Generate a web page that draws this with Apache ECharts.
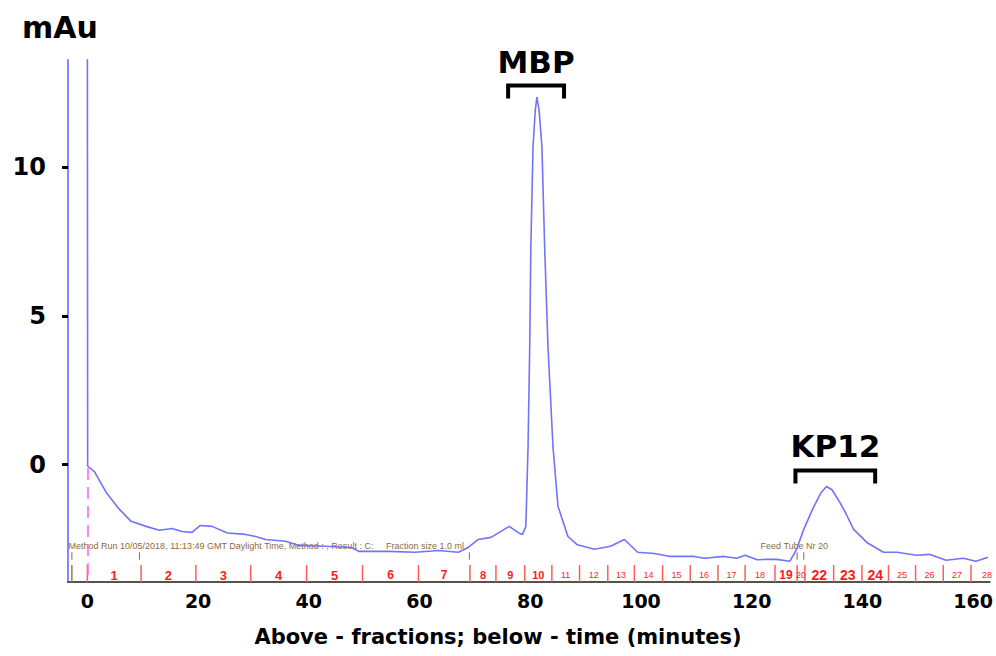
<!DOCTYPE html>
<html>
<head>
<meta charset="utf-8">
<script src="https://cdn.jsdelivr.net/npm/echarts@6/dist/echarts.min.js"></script>
<style>
html, body { margin: 0; padding: 0; background: #fff; }
#chart { width: 996px; height: 656px; }
</style>
</head>
<body>
<div id="chart"></div>
<script>
// chromatogram trace: time (minutes) / absorbance (mAu)
const timeMin = [0, 0.05, 1.3, 3.4, 5.8, 7.9, 10.6, 13, 15.3, 17.1, 18.9, 20.4, 22.5, 25.3, 28.6, 30.4, 32.2, 35.8, 38.2, 43, 47.7, 49, 54.4, 59.2, 63.4, 67, 68.8, 70.6, 72.9, 74.7, 76.2, 77.9, 78.6, 79.2, 79.6, 79.9, 80.1, 80.5, 80.9, 81.2, 81.6, 82.1, 82.6, 83.2, 84.1, 85, 86.8, 88.5, 91.6, 94.5, 97, 99.4, 102.4, 105.3, 109.6, 111.4, 115, 117.3, 118.8, 121, 122.7, 124.5, 126.9, 128.1, 129.4, 131, 132.5, 133.5, 134.5, 136, 137.1, 138.4, 140.8, 143.8, 146.2, 149.8, 152.1, 155.1, 158.2, 160.5, 162.7]
const absorbance = [14.5, -0.05, -0.25, -0.94, -1.51, -1.91, -2.08, -2.21, -2.15, -2.25, -2.28, -2.05, -2.08, -2.3, -2.35, -2.42, -2.52, -2.58, -2.72, -2.75, -2.79, -2.92, -2.92, -2.95, -2.89, -2.95, -2.79, -2.52, -2.45, -2.25, -2.08, -2.3, -2.35, -2.08, 0.6, 3.96, 7.3, 10.7, 11.9, 12.35, 11.9, 10.7, 7.3, 3.96, 0.6, -1.4, -2.42, -2.7, -2.85, -2.75, -2.52, -2.95, -2.99, -3.09, -3.09, -3.15, -3.09, -3.15, -3.05, -3.2, -3.19, -3.19, -3.25, -2.85, -2.18, -1.5, -0.95, -0.74, -0.85, -1.3, -1.68, -2.18, -2.62, -2.95, -2.95, -3.05, -3.02, -3.22, -3.15, -3.25, -3.12]

const xTicks = [0, 20, 40, 60, 80, 100, 120, 140, 160]
const yTicks = [0, 5, 10]

// fraction collector: start time of each fraction and its number
const fractionStart = [0, 9.7, 19.6, 29.5, 39.6, 49.7, 59.8, 69.1, 73.8, 79.0, 83.9, 88.9, 94.0, 98.8, 103.9, 108.9, 113.9, 118.8, 124.2, 128.2, 129.6, 134.8, 139.9, 144.7, 149.6, 154.6, 159.6]
const fractionLabels = ['1', '2', '3', '4', '5', '6', '7', '8', '9', '10', '11', '12', '13', '14', '15', '16', '17', '18', '19', '20', '22', '23', '24', '25', '26', '27', '28']

// peak annotations
const peakNames = ['MBP', 'KP12']
const peakFrom = [76.0, 127.9]
const peakTo = [86.1, 142.3]
const peakTop = [12.74, -0.2]

// method log events
const eventTimes = [-2.8, 9.4, 69.0, 128.2, 129.4]
const noteTexts = ['Method Run 10/05/2018, 11:13:49 GMT Daylight Time, Method : , Result : C:     Fraction size 1.0 ml', 'Feed Tube Nr 20']
const noteTimes = [-3.4, 121.6]

const YMIN = -3.95
const bold = '"DejaVu Sans", sans-serif'
const bigFractions = { '1': 13, '2': 13, '3': 13, '4': 13, '5': 13, '6': 12, '7': 12, '8': 11, '9': 11, '10': 11, '19': 12, '22': 14, '23': 14, '24': 14 }

const chart = echarts.init(document.getElementById('chart'), null, { renderer: 'svg' })

const option = {
  animation: false,
  backgroundColor: '#fff',
  grid: { left: 68, right: 3, top: 60, bottom: 74 },
  xAxis: {
    type: 'value',
    min: -3.5,
    max: 163,
    splitLine: { show: false },
    axisTick: { show: false },
    axisLine: { onZero: false, lineStyle: { color: '#58524c', width: 2 } },
    axisLabel: {
      customValues: xTicks,
      margin: 9,
      color: '#000',
      fontFamily: bold,
      fontWeight: 'bold',
      fontSize: 19
    }
  },
  yAxis: {
    type: 'value',
    min: YMIN,
    max: 13.6,
    splitLine: { show: false },
    axisLine: { show: true, onZero: false, lineStyle: { color: '#8585ff', width: 2 } },
    axisTick: { show: true, customValues: yTicks, length: 6, lineStyle: { color: '#000', width: 3 } },
    axisLabel: {
      customValues: yTicks,
      margin: 22,
      color: '#000',
      fontFamily: bold,
      fontWeight: 'bold',
      fontSize: 24
    }
  },
  graphic: [
    { type: 'text', left: 22, top: 12, style: { text: 'mAu', font: 'bold 30px ' + bold, fill: '#000' } },
    { type: 'text', left: 'center', top: 626, style: { text: 'Above - fractions; below - time (minutes)', font: 'bold 21px ' + bold, fill: '#000' } }
  ],
  series: [
    {
      type: 'line',
      data: timeMin.map((t, i) => [t, absorbance[i]]),
      showSymbol: false,
      clip: true,
      lineStyle: { color: '#7272fa', width: 1.6 },
      markLine: {
        silent: true,
        symbol: ['none', 'none'],
        label: { show: false },
        lineStyle: { color: '#ff66ff', type: [12, 7], width: 1.6 },
        data: [[{ coord: [0, -0.12] }, { coord: [0, YMIN] }]]
      },
      z: 3
    },
    {
      // fraction marks
      type: 'custom',
      data: fractionStart.map((s, i) => [s, (s + (i < fractionStart.length - 1 ? fractionStart[i + 1] : 165.4)) / 2]),
      renderItem(params, api) {
        const lab = fractionLabels[params.dataIndex]
        const bot = api.coord([api.value(0), YMIN])
        const top = api.coord([api.value(0), -3.38])
        const mid = api.coord([api.value(1), -3.72])
        const size = bigFractions[lab]
        return {
          type: 'group',
          children: [
            { type: 'line', shape: { x1: bot[0], y1: bot[1], x2: top[0], y2: top[1] }, style: { stroke: '#ff5c5c', lineWidth: 1.5 } },
            {
              type: 'text', x: mid[0], y: mid[1],
              style: {
                text: lab, fill: '#ff1a1a', align: 'center', verticalAlign: 'middle',
                font: size ? 'bold ' + size + 'px "Liberation Sans", sans-serif' : '9px "Liberation Sans", sans-serif'
              }
            }
          ]
        }
      },
      z: 2
    },
    {
      // method log ticks
      type: 'custom',
      data: eventTimes.map(t => [t, -3]),
      renderItem(params, api) {
        const a = api.coord([api.value(0), -2.95])
        const b = api.coord([api.value(0), -3.2])
        const children = [{ type: 'line', shape: { x1: a[0], y1: a[1], x2: b[0], y2: b[1] }, style: { stroke: '#8b6b3d', lineWidth: 1 } }]
        if (params.dataIndex === 0) {
          const c = api.coord([api.value(0), -3.38])
          const d = api.coord([api.value(0), YMIN])
          children.push({ type: 'line', shape: { x1: c[0], y1: c[1], x2: d[0], y2: d[1] }, style: { stroke: '#9b7b4d', lineWidth: 1.5 } })
        }
        return { type: 'group', children }
      },
      z: 2
    },
    {
      // method log text
      type: 'custom',
      data: noteTimes.map(t => [t, -2.74]),
      renderItem(params, api) {
        const p = api.coord([api.value(0), api.value(1)])
        return {
          type: 'text', x: p[0], y: p[1],
          style: { text: noteTexts[params.dataIndex], fill: '#8b6b3d', align: 'left', verticalAlign: 'middle', font: '9px "Liberation Sans", sans-serif' }
        }
      },
      z: 2
    },
    {
      // peak brackets with names
      type: 'custom',
      data: peakFrom.map((f, i) => [f, peakTop[i]]),
      renderItem(params, api) {
        const i = params.dataIndex
        const a = api.coord([peakFrom[i], peakTop[i]])
        const b = api.coord([peakTo[i], peakTop[i]])
        return {
          type: 'group',
          children: [
            {
              type: 'polyline',
              shape: { points: [[a[0], a[1] + 13], [a[0], a[1]], [b[0], b[1]], [b[0], b[1] + 13]] },
              style: { stroke: '#000', lineWidth: 4, fill: null, lineJoin: 'miter', lineCap: 'butt' }
            },
            {
              type: 'text', x: (a[0] + b[0]) / 2, y: a[1] - 24,
              style: { text: peakNames[i], fill: '#000', align: 'center', verticalAlign: 'middle', font: 'bold 31px ' + bold }
            }
          ]
        }
      },
      z: 4
    }
  ]
}

chart.setOption(option)
</script>
</body>
</html>
